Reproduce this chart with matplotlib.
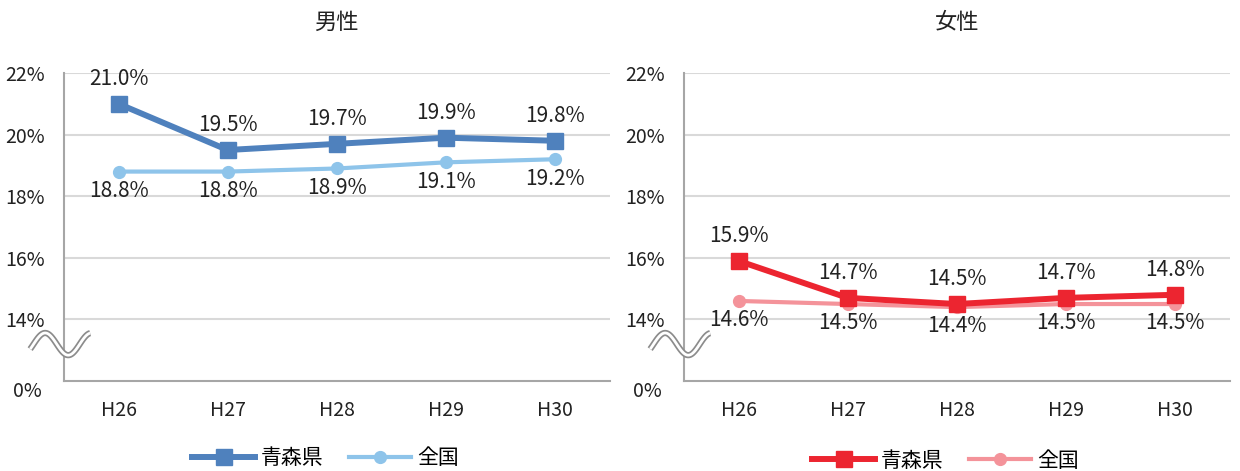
import numpy as np
import matplotlib.pyplot as plt

plt.rcParams['font.family'] = ['Noto Sans CJK JP', 'DejaVu Sans']

years = ['H26', 'H27', 'H28', 'H29', 'H30']
male_aomori = [21.0, 19.5, 19.7, 19.9, 19.8]
male_japan = [18.8, 18.8, 18.9, 19.1, 19.2]
female_aomori = [15.9, 14.7, 14.5, 14.7, 14.8]
female_japan = [14.6, 14.5, 14.4, 14.5, 14.5]

yticks = [14, 16, 18, 20, 22]

fig = plt.figure(figsize=(12.4, 4.71), dpi=100)

panels = [
    (0.0516, '男性', male_aomori, male_japan, '#4F81BD', '#8EC4EA', -0.25),
    (0.5516, '女性', female_aomori, female_japan, '#EC2530', '#F4939A', -0.258),
]

for left, title, a, j, ca, cj, legy in panels:
    ax = fig.add_axes([left, 0.191, 0.44, 0.654])
    x = np.arange(len(years))
    ax.plot(x, j, color=cj, lw=3.0, marker='o', ms=8.5, label='全国', zorder=3)
    ax.plot(x, a, color=ca, lw=4.3, marker='s', ms=12, label='青森県', zorder=4)
    # 青森県 first in legend
    h, l = ax.get_legend_handles_labels()
    ax.legend(h[::-1], l[::-1], loc='center', bbox_to_anchor=(0.48, legy),
              ncol=2, frameon=False, fontsize=15, handlelength=3.0, columnspacing=1.2,
              handletextpad=0.3, borderaxespad=0, borderpad=0.2)
    for xi, v in zip(x, a):
        ax.annotate(f'{v:.1f}%', (xi, v), xytext=(0, 10), textcoords='offset points',
                    ha='center', va='bottom', fontsize=15, color='#222222')
    for xi, v in zip(x, j):
        ax.annotate(f'{v:.1f}%', (xi, v), xytext=(0, -6), textcoords='offset points',
                    ha='center', va='top', fontsize=15, color='#222222')
    ax.set_xlim(-0.5, 4.5)
    ax.set_ylim(12, 22)
    ax.set_yticks(yticks)
    ax.set_yticklabels([f'{t}%' for t in yticks], fontsize=14, color='#222222')
    ax.set_xticks(x)
    ax.set_xticklabels(years, fontsize=14, color='#222222')
    ax.tick_params(length=0, pad=14)
    ax.tick_params(axis='x', pad=14)
    ax.grid(axis='y', color='#D9D9D9', lw=1.5)
    ax.set_axisbelow(True)
    for s in ['top', 'right']:
        ax.spines[s].set_visible(False)
    for s in ['left', 'bottom']:
        ax.spines[s].set_color('#A6A6A6')
        ax.spines[s].set_linewidth(1.5)
    ax.text(-0.04, -0.035, '0%', transform=ax.transAxes, ha='right', va='center',
            fontsize=14, color='#222222')
    # axis break wave
    t = np.linspace(0, 1, 120)
    wx = -0.062 + 0.11 * t
    wy = 0.12 + 0.036 * np.sin(2 * np.pi * 1.3 * t - 0.47)
    ax.plot(wx, wy, transform=ax.transAxes, color='#8C8C8C', lw=4.5, clip_on=False,
            solid_capstyle='butt', zorder=5)
    ax.plot(wx, wy, transform=ax.transAxes, color='white', lw=2.0, clip_on=False,
            solid_capstyle='butt', zorder=6)
    ax.set_title(title, fontsize=16, pad=32, color='#222222')

fig.savefig('out.png', dpi=100)
